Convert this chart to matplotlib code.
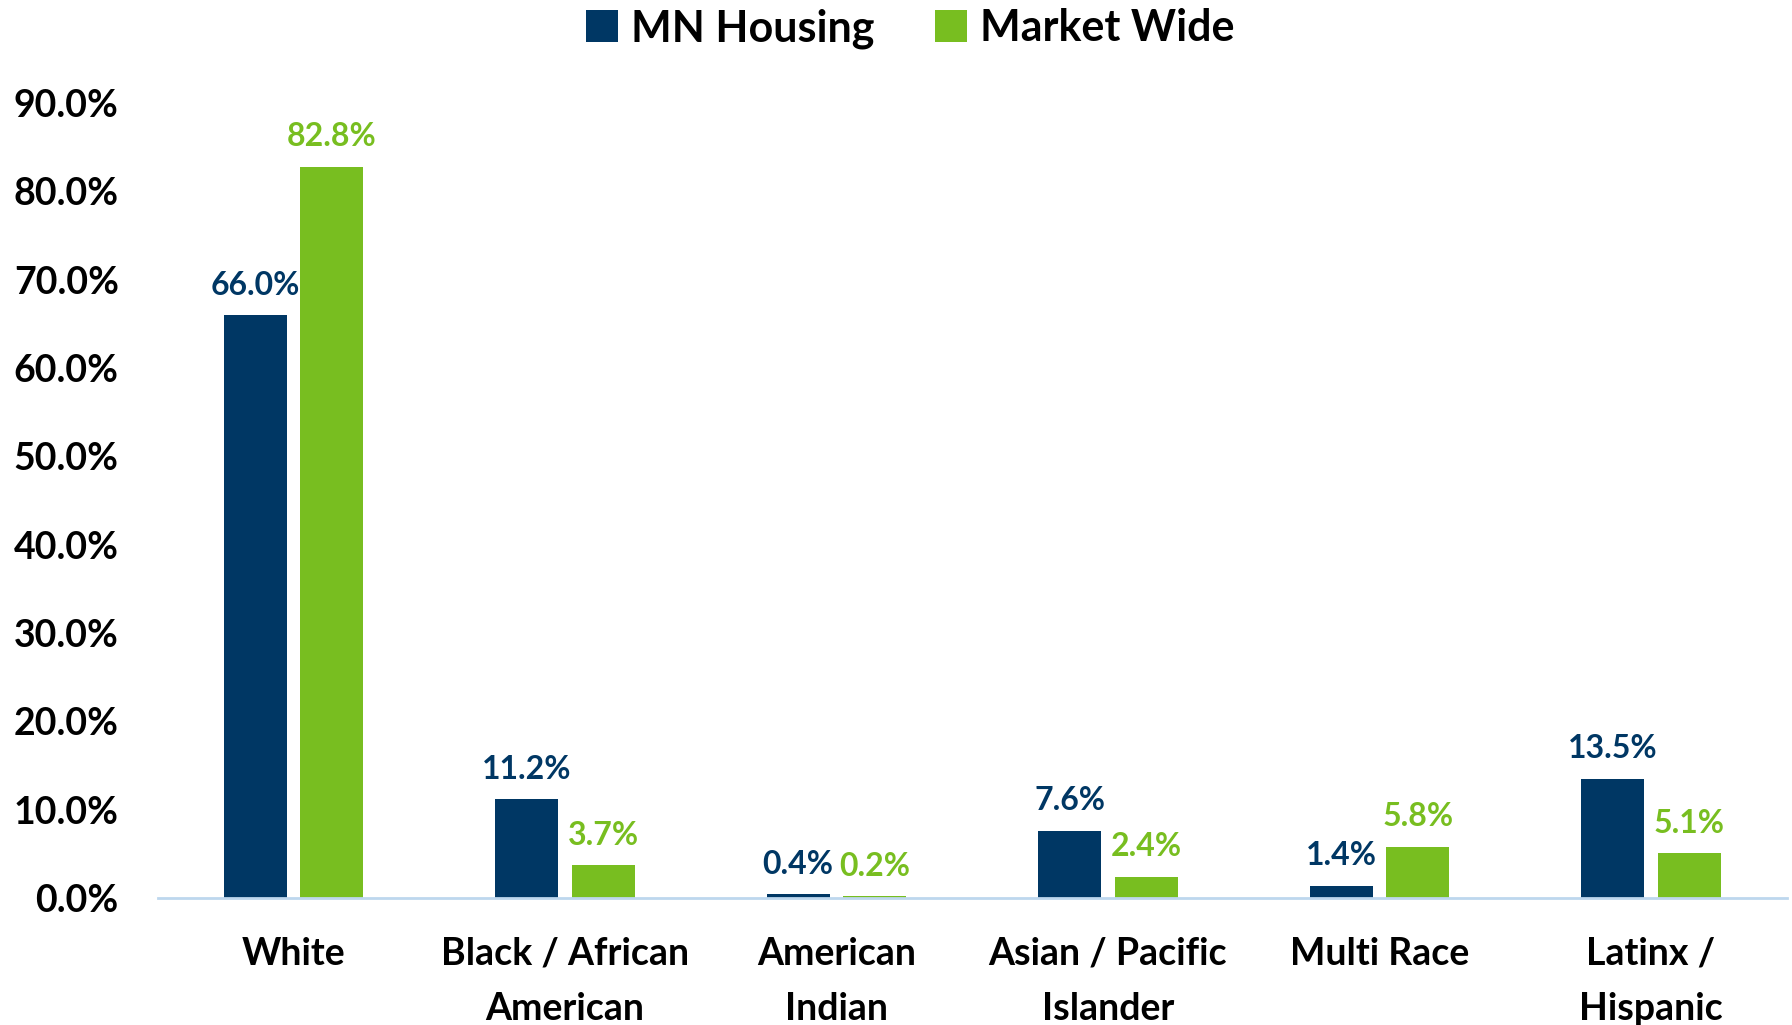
import matplotlib.pyplot as plt
import numpy as np

categories = ['White', 'Black / African\nAmerican', 'American\nIndian',
              'Asian / Pacific\nIslander', 'Multi Race', 'Latinx /\nHispanic']
mn_housing = [66.0, 11.2, 0.4, 7.6, 1.4, 13.5]
market_wide = [82.8, 3.7, 0.2, 2.4, 5.8, 5.1]
yticks = [0, 10, 20, 30, 40, 50, 60, 70, 80, 90]

navy = '#003764'
green = '#78BE20'

plt.rcParams['font.family'] = ['Lato', 'DejaVu Sans']
plt.rcParams['font.weight'] = 'bold'

fig = plt.figure(figsize=(17.92, 10.25), dpi=100)
ax = fig.add_axes([0.088, 0.124, 0.909, 0.7755])

x = np.arange(len(categories))
w = 0.232
off = 0.141
b1 = ax.bar(x - off, mn_housing, w, color=navy, label='MN Housing')
b2 = ax.bar(x + off, market_wide, w, color=green, label='Market Wide')

for bars, vals, c in [(b1, mn_housing, navy), (b2, market_wide, green)]:
    for b, v in zip(bars, vals):
        ax.annotate(f'{v:.1f}%', (b.get_x() + b.get_width() / 2, v),
                    xytext=(0, 11), textcoords='offset points',
                    ha='center', va='bottom', fontsize=23, fontweight='bold', color=c)

ax.set_xlim(-0.5, len(categories) - 0.5)
ax.set_ylim(0, 90)
ax.set_yticks(yticks)
ax.set_yticklabels([f'{t:.1f}%' for t in yticks], fontsize=27, fontweight='bold')
ax.set_xticks(x)
ax.set_xticklabels(categories, fontsize=27, fontweight='bold', linespacing=1.75)
ax.tick_params(axis='both', length=0)
ax.tick_params(axis='y', pad=28)
ax.tick_params(axis='x', pad=28)

for s in ['top', 'right', 'left']:
    ax.spines[s].set_visible(False)
ax.spines['bottom'].set_color('#BDD7EE')
ax.spines['bottom'].set_linewidth(2)

fig.legend(loc='upper center', bbox_to_anchor=(0.508, 1.03), ncol=2, frameon=False,
           prop={'size': 31, 'weight': 'bold'}, handlelength=0.75, handleheight=0.75,
           handletextpad=0.3, columnspacing=1.4)

fig.savefig('out.png', dpi=100)
